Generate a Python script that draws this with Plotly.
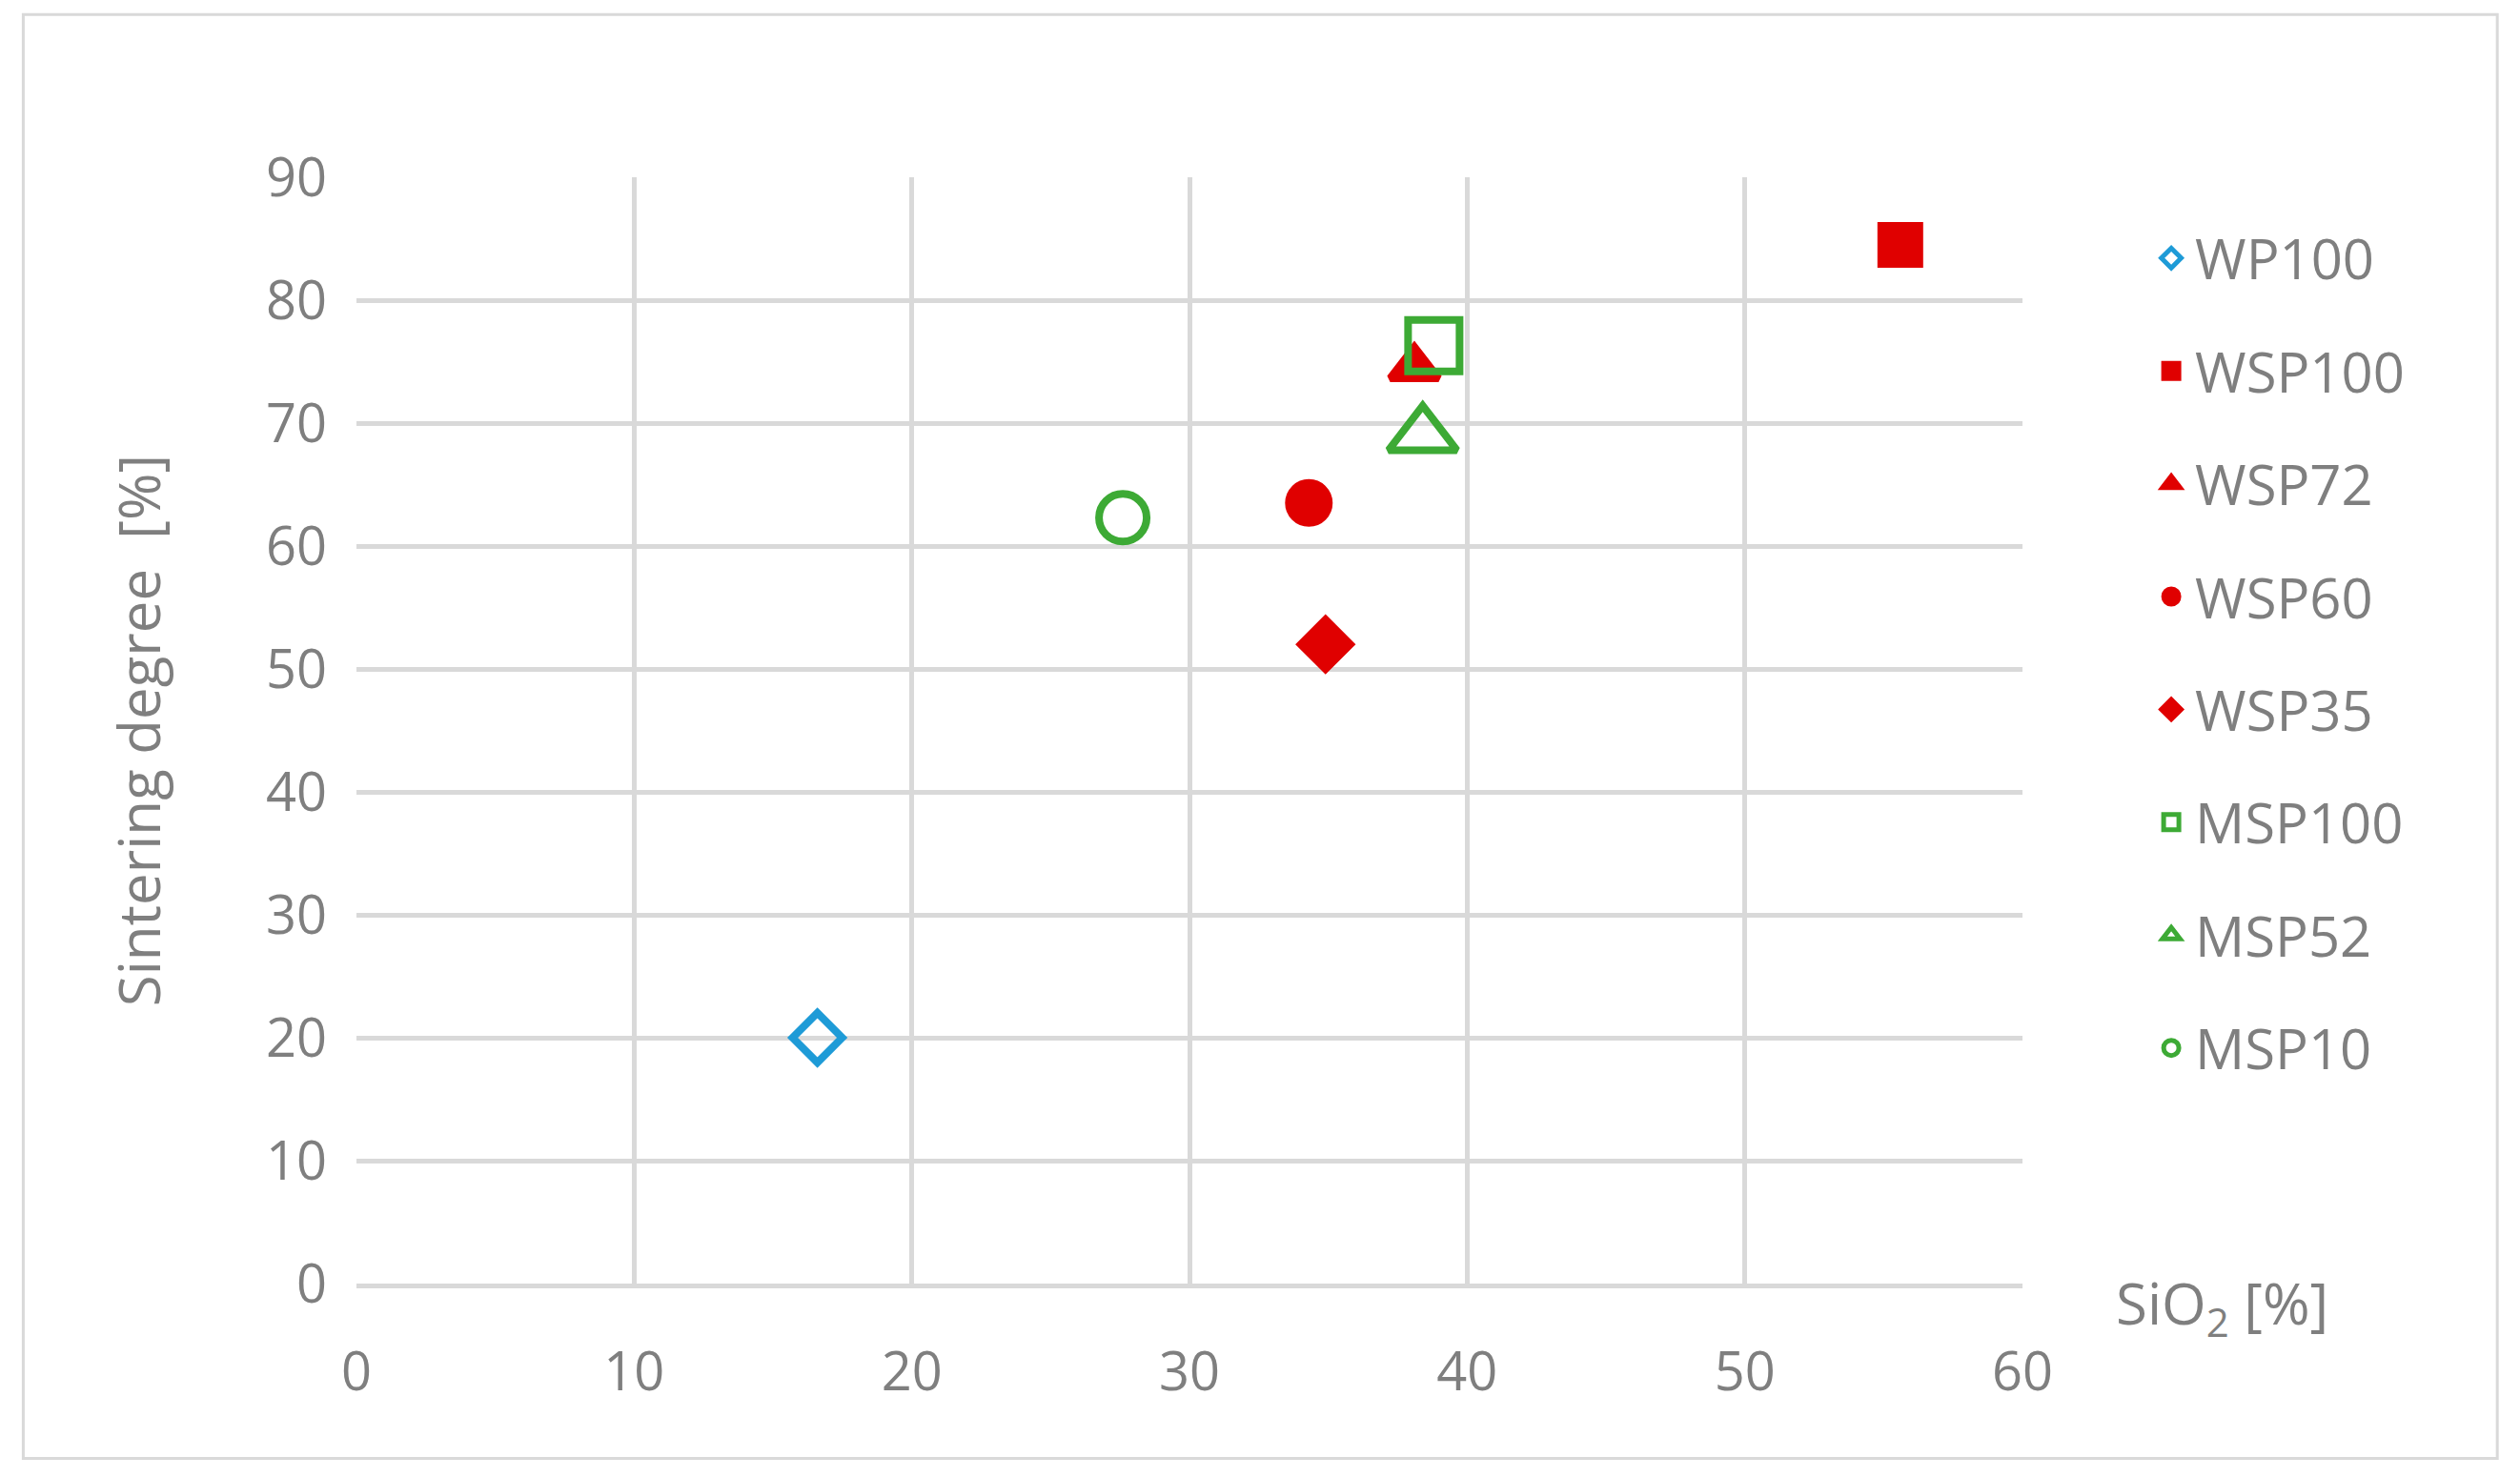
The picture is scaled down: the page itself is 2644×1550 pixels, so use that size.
import plotly.graph_objects as go

names = ["WP100", "WSP100", "WSP72", "WSP60", "WSP35", "MSP100", "MSP52", "MSP10"]
sio2 = [16.6, 55.6, 38.1, 34.3, 34.9, 38.8, 38.4, 27.6]
sinter = [20.0, 84.5, 74.5, 63.5, 52.0, 76.3, 69.0, 62.3]
symbols = ["diamond-open", "square", "triangle-up", "circle", "diamond",
           "square-open", "triangle-up-open", "circle-open"]
colors = ["#1e9bd7", "#e00000", "#e00000", "#e00000", "#e00000",
          "#3daa35", "#3daa35", "#3daa35"]
sizes = [40, 40, 44, 42, 40, 54, 62, 50]

fig = go.Figure()
for i, n in enumerate(names):
    fig.add_trace(go.Scatter(
        x=[sio2[i]], y=[sinter[i]], mode="markers", name=n, legendgroup=n,
        marker=dict(symbol=symbols[i], color=colors[i], size=sizes[i],
                    line=dict(width=8, color=colors[i]))))

gray = "#7f7f7f"
fig.update_layout(
    width=2644, height=1550, paper_bgcolor="white", plot_bgcolor="white",
    margin=dict(l=366, r=530, t=178, b=211),
    font=dict(family="Open Sans", color=gray, size=54),
    showlegend=True,
    legend=dict(x=1.075, y=0.965, xanchor="left", yanchor="top",
                font=dict(size=58, color=gray), tracegroupgap=40,
                itemwidth=40),
    shapes=[dict(type="rect", xref="paper", yref="paper", x0=-0.2, x1=1.285,
                 y0=-0.158, y1=1.147, line=dict(color="#d9d9d9", width=3))],
    annotations=[dict(text="SiO<sub>2</sub> [%]", xref="paper", yref="paper",
                      x=1.12, y=-0.02, xanchor="center", yanchor="middle",
                      showarrow=False, font=dict(size=60, color=gray))],
)
fig.update_xaxes(range=[0, 60], dtick=10, showgrid=True, gridcolor="#d9d9d9",
                 gridwidth=5, zeroline=False, showline=True, linecolor="#d9d9d9",
                 linewidth=5, ticks="", ticklabelstandoff=40,
                 tickfont=dict(size=56, color=gray))
fig.update_yaxes(range=[0, 90], dtick=10, showgrid=True, gridcolor="#d9d9d9",
                 gridwidth=5, zeroline=False, showline=False, ticks="",
                 ticklabelstandoff=30, tickfont=dict(size=56, color=gray),
                 title=dict(text="Sintering degree  [%]", standoff=90,
                            font=dict(size=60, color=gray)))
fig.write_html("out.html")
